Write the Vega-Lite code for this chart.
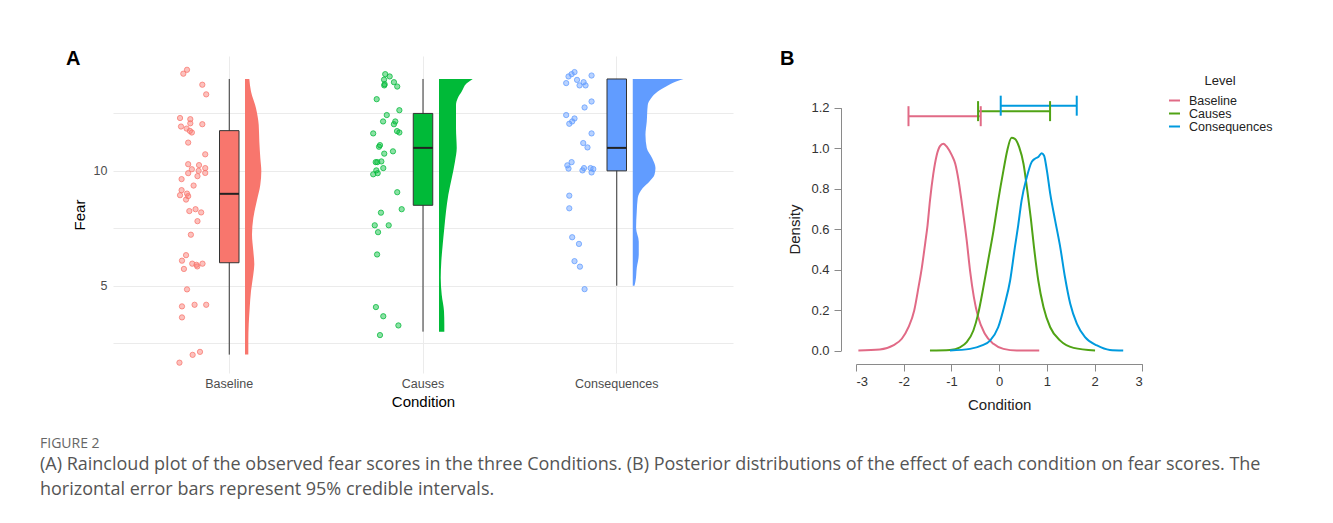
{
  "$schema": "https://vega.github.io/schema/vega-lite/v6.json",
  "autosize": {"type": "pad"},
  "padding": {"left": 40, "top": 49, "right": 5, "bottom": 5},
  "background": "white",
  "config": {"view": {"stroke": null}, "font": "Liberation Sans"},
  "datasets": {
    "pts": [
      {"Condition":"Baseline","jitter":-0.237,"Fear":14.23},{"Condition":"Baseline","jitter":-0.218,"Fear":14.40},{"Condition":"Baseline","jitter":-0.139,"Fear":13.75},{"Condition":"Baseline","jitter":-0.119,"Fear":13.33},{"Condition":"Baseline","jitter":-0.254,"Fear":12.30},{"Condition":"Baseline","jitter":-0.201,"Fear":12.25},{"Condition":"Baseline","jitter":-0.249,"Fear":11.93},{"Condition":"Baseline","jitter":-0.201,"Fear":12.07},{"Condition":"Baseline","jitter":-0.139,"Fear":12.03},{"Condition":"Baseline","jitter":-0.220,"Fear":11.84},{"Condition":"Baseline","jitter":-0.203,"Fear":11.74},{"Condition":"Baseline","jitter":-0.193,"Fear":11.67},{"Condition":"Baseline","jitter":-0.212,"Fear":11.23},{"Condition":"Baseline","jitter":-0.124,"Fear":10.72},{"Condition":"Baseline","jitter":-0.212,"Fear":10.29},{"Condition":"Baseline","jitter":-0.156,"Fear":10.25},{"Condition":"Baseline","jitter":-0.193,"Fear":10.07},{"Condition":"Baseline","jitter":-0.124,"Fear":10.12},{"Condition":"Baseline","jitter":-0.212,"Fear":9.90},{"Condition":"Baseline","jitter":-0.158,"Fear":10.0},{"Condition":"Baseline","jitter":-0.124,"Fear":9.91},{"Condition":"Baseline","jitter":-0.164,"Fear":9.77},{"Condition":"Baseline","jitter":-0.246,"Fear":9.64},{"Condition":"Baseline","jitter":-0.184,"Fear":9.36},{"Condition":"Baseline","jitter":-0.246,"Fear":9.16},{"Condition":"Baseline","jitter":-0.218,"Fear":9.01},{"Condition":"Baseline","jitter":-0.254,"Fear":8.94},{"Condition":"Baseline","jitter":-0.212,"Fear":8.90},{"Condition":"Baseline","jitter":-0.223,"Fear":8.75},{"Condition":"Baseline","jitter":-0.206,"Fear":8.25},{"Condition":"Baseline","jitter":-0.174,"Fear":8.33},{"Condition":"Baseline","jitter":-0.145,"Fear":8.19},{"Condition":"Baseline","jitter":-0.164,"Fear":7.81},{"Condition":"Baseline","jitter":-0.198,"Fear":7.22},{"Condition":"Baseline","jitter":-0.223,"Fear":6.33},{"Condition":"Baseline","jitter":-0.244,"Fear":6.09},{"Condition":"Baseline","jitter":-0.191,"Fear":5.96},{"Condition":"Baseline","jitter":-0.165,"Fear":5.84},{"Condition":"Baseline","jitter":-0.138,"Fear":5.96},{"Condition":"Baseline","jitter":-0.234,"Fear":5.73},{"Condition":"Baseline","jitter":-0.169,"Fear":5.91},{"Condition":"Baseline","jitter":-0.218,"Fear":4.84},{"Condition":"Baseline","jitter":-0.244,"Fear":4.10},{"Condition":"Baseline","jitter":-0.179,"Fear":4.17},{"Condition":"Baseline","jitter":-0.119,"Fear":4.17},{"Condition":"Baseline","jitter":-0.244,"Fear":3.62},{"Condition":"Baseline","jitter":-0.151,"Fear":2.12},{"Condition":"Baseline","jitter":-0.189,"Fear":1.99},{"Condition":"Baseline","jitter":-0.257,"Fear":1.65},
      {"Condition":"Causes","jitter":-0.195,"Fear":14.21},{"Condition":"Causes","jitter":-0.172,"Fear":14.11},{"Condition":"Causes","jitter":-0.201,"Fear":13.97},{"Condition":"Causes","jitter":-0.198,"Fear":13.77},{"Condition":"Causes","jitter":-0.200,"Fear":13.72},{"Condition":"Causes","jitter":-0.150,"Fear":13.86},{"Condition":"Causes","jitter":-0.133,"Fear":13.67},{"Condition":"Causes","jitter":-0.239,"Fear":13.12},{"Condition":"Causes","jitter":-0.122,"Fear":12.64},{"Condition":"Causes","jitter":-0.187,"Fear":12.43},{"Condition":"Causes","jitter":-0.206,"Fear":12.15},{"Condition":"Causes","jitter":-0.143,"Fear":12.15},{"Condition":"Causes","jitter":-0.150,"Fear":12.03},{"Condition":"Causes","jitter":-0.257,"Fear":11.63},{"Condition":"Causes","jitter":-0.134,"Fear":11.73},{"Condition":"Causes","jitter":-0.122,"Fear":11.67},{"Condition":"Causes","jitter":-0.222,"Fear":11.12},{"Condition":"Causes","jitter":-0.227,"Fear":11.05},{"Condition":"Causes","jitter":-0.200,"Fear":10.75},{"Condition":"Causes","jitter":-0.155,"Fear":10.85},{"Condition":"Causes","jitter":-0.244,"Fear":10.38},{"Condition":"Causes","jitter":-0.236,"Fear":10.38},{"Condition":"Causes","jitter":-0.215,"Fear":10.41},{"Condition":"Causes","jitter":-0.205,"Fear":10.12},{"Condition":"Causes","jitter":-0.241,"Fear":10.02},{"Condition":"Causes","jitter":-0.257,"Fear":9.85},{"Condition":"Causes","jitter":-0.234,"Fear":9.90},{"Condition":"Causes","jitter":-0.133,"Fear":9.07},{"Condition":"Causes","jitter":-0.110,"Fear":8.33},{"Condition":"Causes","jitter":-0.217,"Fear":8.18},{"Condition":"Causes","jitter":-0.249,"Fear":7.63},{"Condition":"Causes","jitter":-0.177,"Fear":7.63},{"Condition":"Causes","jitter":-0.232,"Fear":7.33},{"Condition":"Causes","jitter":-0.237,"Fear":6.36},{"Condition":"Causes","jitter":-0.243,"Fear":4.07},{"Condition":"Causes","jitter":-0.205,"Fear":3.67},{"Condition":"Causes","jitter":-0.127,"Fear":3.27},{"Condition":"Causes","jitter":-0.222,"Fear":2.85},
      {"Condition":"Consequences","jitter":-0.249,"Fear":14.11},{"Condition":"Consequences","jitter":-0.233,"Fear":14.21},{"Condition":"Consequences","jitter":-0.218,"Fear":14.30},{"Condition":"Consequences","jitter":-0.261,"Fear":13.82},{"Condition":"Consequences","jitter":-0.205,"Fear":13.96},{"Condition":"Consequences","jitter":-0.171,"Fear":13.86},{"Condition":"Consequences","jitter":-0.192,"Fear":13.72},{"Condition":"Consequences","jitter":-0.161,"Fear":13.72},{"Condition":"Consequences","jitter":-0.130,"Fear":14.15},{"Condition":"Consequences","jitter":-0.130,"Fear":13.02},{"Condition":"Consequences","jitter":-0.166,"Fear":12.76},{"Condition":"Consequences","jitter":-0.261,"Fear":12.43},{"Condition":"Consequences","jitter":-0.218,"Fear":12.28},{"Condition":"Consequences","jitter":-0.230,"Fear":12.15},{"Condition":"Consequences","jitter":-0.245,"Fear":12.05},{"Condition":"Consequences","jitter":-0.130,"Fear":11.63},{"Condition":"Consequences","jitter":-0.173,"Fear":11.21},{"Condition":"Consequences","jitter":-0.151,"Fear":11.02},{"Condition":"Consequences","jitter":-0.233,"Fear":10.38},{"Condition":"Consequences","jitter":-0.255,"Fear":10.24},{"Condition":"Consequences","jitter":-0.249,"Fear":10.10},{"Condition":"Consequences","jitter":-0.169,"Fear":10.12},{"Condition":"Consequences","jitter":-0.177,"Fear":10.02},{"Condition":"Consequences","jitter":-0.135,"Fear":10.12},{"Condition":"Consequences","jitter":-0.121,"Fear":10.08},{"Condition":"Consequences","jitter":-0.130,"Fear":9.93},{"Condition":"Consequences","jitter":-0.245,"Fear":8.92},{"Condition":"Consequences","jitter":-0.245,"Fear":8.37},{"Condition":"Consequences","jitter":-0.230,"Fear":7.11},{"Condition":"Consequences","jitter":-0.195,"Fear":6.82},{"Condition":"Consequences","jitter":-0.218,"Fear":6.07},{"Condition":"Consequences","jitter":-0.190,"Fear":5.83},{"Condition":"Consequences","jitter":-0.166,"Fear":4.85}
    ],
    "box": [
      {"Condition":"Baseline","lower":2,"q1":6,"median":9,"q3":11.75,"upper":14},
      {"Condition":"Causes","lower":3,"q1":8.5,"median":11,"q3":12.5,"upper":14},
      {"Condition":"Consequences","lower":5,"q1":10,"median":11,"q3":14,"upper":14}
    ],
    "violin": [
      {"Condition":"Baseline","Fear":14.0,"Density":0.108},{"Condition":"Baseline","Fear":13.45,"Density":0.15},{"Condition":"Baseline","Fear":12.73,"Density":0.275},{"Condition":"Baseline","Fear":12.0,"Density":0.343},{"Condition":"Baseline","Fear":11.28,"Density":0.358},{"Condition":"Baseline","Fear":10.56,"Density":0.383},{"Condition":"Baseline","Fear":9.98,"Density":0.408},{"Condition":"Baseline","Fear":9.40,"Density":0.383},{"Condition":"Baseline","Fear":8.68,"Density":0.293},{"Condition":"Baseline","Fear":7.95,"Density":0.208},{"Condition":"Baseline","Fear":7.23,"Density":0.175},{"Condition":"Baseline","Fear":6.51,"Density":0.208},{"Condition":"Baseline","Fear":5.93,"Density":0.233},{"Condition":"Baseline","Fear":5.49,"Density":0.208},{"Condition":"Baseline","Fear":4.77,"Density":0.15},{"Condition":"Baseline","Fear":4.05,"Density":0.118},{"Condition":"Baseline","Fear":3.32,"Density":0.093},{"Condition":"Baseline","Fear":2.60,"Density":0.083},{"Condition":"Baseline","Fear":2.0,"Density":0.083},
      {"Condition":"Causes","Fear":14.0,"Density":0.843},{"Condition":"Causes","Fear":13.81,"Density":0.693},{"Condition":"Causes","Fear":13.45,"Density":0.568},{"Condition":"Causes","Fear":13.16,"Density":0.468},{"Condition":"Causes","Fear":12.87,"Density":0.425},{"Condition":"Causes","Fear":11.86,"Density":0.425},{"Condition":"Causes","Fear":10.99,"Density":0.443},{"Condition":"Causes","Fear":10.41,"Density":0.40},{"Condition":"Causes","Fear":9.68,"Density":0.318},{"Condition":"Causes","Fear":8.96,"Density":0.233},{"Condition":"Causes","Fear":8.23,"Density":0.175},{"Condition":"Causes","Fear":7.51,"Density":0.133},{"Condition":"Causes","Fear":6.79,"Density":0.093},{"Condition":"Causes","Fear":6.06,"Density":0.058},{"Condition":"Causes","Fear":5.34,"Density":0.043},{"Condition":"Causes","Fear":4.61,"Density":0.068},{"Condition":"Causes","Fear":3.89,"Density":0.125},{"Condition":"Causes","Fear":3.31,"Density":0.133},{"Condition":"Causes","Fear":3.0,"Density":0.133},
      {"Condition":"Consequences","Fear":14.0,"Density":1.268},{"Condition":"Consequences","Fear":13.89,"Density":1.083},{"Condition":"Consequences","Fear":13.67,"Density":0.833},{"Condition":"Consequences","Fear":13.45,"Density":0.625},{"Condition":"Consequences","Fear":13.16,"Density":0.458},{"Condition":"Consequences","Fear":12.87,"Density":0.375},{"Condition":"Consequences","Fear":12.15,"Density":0.35},{"Condition":"Consequences","Fear":11.57,"Density":0.318},{"Condition":"Consequences","Fear":10.99,"Density":0.35},{"Condition":"Consequences","Fear":10.56,"Density":0.483},{"Condition":"Consequences","Fear":10.12,"Density":0.568},{"Condition":"Consequences","Fear":9.83,"Density":0.543},{"Condition":"Consequences","Fear":9.54,"Density":0.418},{"Condition":"Consequences","Fear":9.25,"Density":0.25},{"Condition":"Consequences","Fear":8.82,"Density":0.125},{"Condition":"Consequences","Fear":8.23,"Density":0.10},{"Condition":"Consequences","Fear":7.51,"Density":0.083},{"Condition":"Consequences","Fear":6.93,"Density":0.15},{"Condition":"Consequences","Fear":6.35,"Density":0.15},{"Condition":"Consequences","Fear":5.77,"Density":0.10},{"Condition":"Consequences","Fear":5.19,"Density":0.068},{"Condition":"Consequences","Fear":5.0,"Density":0.043}
    ],
    "post": [
      {"Level":"Baseline","Effect":-2.95,"Density":0},{"Level":"Baseline","Effect":-2.5,"Density":0.005},{"Level":"Baseline","Effect":-2.22,"Density":0.025},{"Level":"Baseline","Effect":-2.04,"Density":0.058},{"Level":"Baseline","Effect":-1.90,"Density":0.115},{"Level":"Baseline","Effect":-1.78,"Density":0.198},{"Level":"Baseline","Effect":-1.69,"Density":0.313},{"Level":"Baseline","Effect":-1.62,"Density":0.41},{"Level":"Baseline","Effect":-1.55,"Density":0.53},{"Level":"Baseline","Effect":-1.50,"Density":0.62},{"Level":"Baseline","Effect":-1.45,"Density":0.741},{"Level":"Baseline","Effect":-1.38,"Density":0.873},{"Level":"Baseline","Effect":-1.31,"Density":0.964},{"Level":"Baseline","Effect":-1.24,"Density":1.01},{"Level":"Baseline","Effect":-1.17,"Density":1.022},{"Level":"Baseline","Effect":-1.09,"Density":1.005},{"Level":"Baseline","Effect":-0.99,"Density":0.964},{"Level":"Baseline","Effect":-0.92,"Density":0.923},{"Level":"Baseline","Effect":-0.85,"Density":0.84},{"Level":"Baseline","Effect":-0.78,"Density":0.725},{"Level":"Baseline","Effect":-0.72,"Density":0.62},{"Level":"Baseline","Effect":-0.68,"Density":0.544},{"Level":"Baseline","Effect":-0.61,"Density":0.395},{"Level":"Baseline","Effect":-0.53,"Density":0.264},{"Level":"Baseline","Effect":-0.44,"Density":0.165},{"Level":"Baseline","Effect":-0.30,"Density":0.083},{"Level":"Baseline","Effect":-0.12,"Density":0.033},{"Level":"Baseline","Effect":0.09,"Density":0.008},{"Level":"Baseline","Effect":0.37,"Density":0.0},{"Level":"Baseline","Effect":0.84,"Density":0.0},
      {"Level":"Causes","Effect":-1.45,"Density":0},{"Level":"Causes","Effect":-1.03,"Density":0.003},{"Level":"Causes","Effect":-0.82,"Density":0.016},{"Level":"Causes","Effect":-0.68,"Density":0.041},{"Level":"Causes","Effect":-0.54,"Density":0.099},{"Level":"Causes","Effect":-0.44,"Density":0.181},{"Level":"Causes","Effect":-0.33,"Density":0.313},{"Level":"Causes","Effect":-0.23,"Density":0.445},{"Level":"Causes","Effect":-0.12,"Density":0.59},{"Level":"Causes","Effect":-0.02,"Density":0.741},{"Level":"Causes","Effect":0.09,"Density":0.89},{"Level":"Causes","Effect":0.17,"Density":0.989},{"Level":"Causes","Effect":0.26,"Density":1.051},{"Level":"Causes","Effect":0.33,"Density":1.046},{"Level":"Causes","Effect":0.42,"Density":1.005},{"Level":"Causes","Effect":0.51,"Density":0.923},{"Level":"Causes","Effect":0.59,"Density":0.791},{"Level":"Causes","Effect":0.665,"Density":0.65},{"Level":"Causes","Effect":0.73,"Density":0.511},{"Level":"Causes","Effect":0.82,"Density":0.346},{"Level":"Causes","Effect":0.93,"Density":0.214},{"Level":"Causes","Effect":1.07,"Density":0.115},{"Level":"Causes","Effect":1.28,"Density":0.049},{"Level":"Causes","Effect":1.56,"Density":0.013},{"Level":"Causes","Effect":2.01,"Density":0},
      {"Level":"Consequences","Effect":-1.03,"Density":0},{"Level":"Consequences","Effect":-0.61,"Density":0.008},{"Level":"Consequences","Effect":-0.36,"Density":0.025},{"Level":"Consequences","Effect":-0.19,"Density":0.049},{"Level":"Consequences","Effect":-0.02,"Density":0.115},{"Level":"Consequences","Effect":0.12,"Density":0.231},{"Level":"Consequences","Effect":0.23,"Density":0.346},{"Level":"Consequences","Effect":0.33,"Density":0.511},{"Level":"Consequences","Effect":0.40,"Density":0.62},{"Level":"Consequences","Effect":0.47,"Density":0.741},{"Level":"Consequences","Effect":0.58,"Density":0.857},{"Level":"Consequences","Effect":0.68,"Density":0.931},{"Level":"Consequences","Effect":0.75,"Density":0.948},{"Level":"Consequences","Effect":0.82,"Density":0.956},{"Level":"Consequences","Effect":0.89,"Density":0.975},{"Level":"Consequences","Effect":0.94,"Density":0.964},{"Level":"Consequences","Effect":1.00,"Density":0.89},{"Level":"Consequences","Effect":1.07,"Density":0.775},{"Level":"Consequences","Effect":1.17,"Density":0.647},{"Level":"Consequences","Effect":1.28,"Density":0.511},{"Level":"Consequences","Effect":1.38,"Density":0.362},{"Level":"Consequences","Effect":1.49,"Density":0.231},{"Level":"Consequences","Effect":1.63,"Density":0.132},{"Level":"Consequences","Effect":1.80,"Density":0.066},{"Level":"Consequences","Effect":2.05,"Density":0.025},{"Level":"Consequences","Effect":2.32,"Density":0.003},{"Level":"Consequences","Effect":2.60,"Density":0}
    ],
    "ci": [
      {"Level":"Baseline","lower":-1.90,"upper":-0.386,"height":1.158},
      {"Level":"Causes","lower":-0.442,"upper":1.067,"height":1.183},
      {"Level":"Consequences","lower":0.033,"upper":1.626,"height":1.21}
    ]
  },
  "title": {
    "text": "FIGURE 2",
    "subtitle": ["(A) Raincloud plot of the observed fear scores in the three Conditions. (B) Posterior distributions of the effect of each condition on fear scores. The", "horizontal error bars represent 95% credible intervals."],
    "orient": "bottom", "anchor": "start", "frame": "group", "dx": -73, "offset": 25,
    "font": "Open Sans", "fontSize": 14, "fontWeight": "normal", "color": "#666666",
    "subtitleFont": "Open Sans", "subtitleFontSize": 18, "subtitleColor": "#555555", "subtitleLineHeight": 25, "subtitlePadding": 5
  },
  "bounds": "flush",
  "spacing": 108,
  "resolve": {"scale": {"color": "independent"}},
  "hconcat": [
    {
      "width": 620, "height": 317,
      "title": {"text": "A", "anchor": "start", "frame": "group", "dx": -47, "dy": 29, "offset": 0, "baseline": "alphabetic", "fontSize": 20, "fontWeight": "bold", "color": "#000000", "font": "Liberation Sans"},
      "resolve": {"scale": {"x": "independent"}},
      "layer": [
        {
          "data": {"name": "box"},
          "mark": {"type": "rule", "color": "#333333", "strokeWidth": 1},
          "encoding": {
            "x": {"field": "Condition", "type": "nominal", "sort": ["Baseline","Causes","Consequences"], "scale": {"type": "band", "paddingInner": 0, "paddingOuter": 0.1},
                  "axis": {"title": "Condition", "bandPosition": 0.5, "grid": true, "gridColor": "#EBEBEB", "gridWidth": 1, "domain": false, "ticks": false, "labelAngle": 0, "labelColor": "#4D4D4D", "labelFontSize": 12.5, "labelPadding": 4, "titleFontSize": 15, "titleFontWeight": "normal", "titleColor": "#000000", "titlePadding": 5}},
            "y": {"field": "lower", "type": "quantitative", "scale": {"domain": [1.2, 15], "nice": false, "zero": false},
                  "axis": {"title": "Fear", "values": [2.5, 5, 7.5, 10, 12.5], "labelExpr": "datum.value % 5 == 0 ? datum.label : ''", "grid": true, "gridColor": "#EBEBEB", "gridWidth": 1, "domain": false, "ticks": false, "labelColor": "#4D4D4D", "labelFontSize": 12.5, "labelPadding": 6, "titleFontSize": 15, "titleFontWeight": "normal", "titleColor": "#000000", "titlePadding": 6}},
            "y2": {"field": "upper"}
          }
        },
        {
          "data": {"name": "pts"},
          "mark": {"type": "circle", "size": 28, "fillOpacity": 0.45, "strokeOpacity": 0.75, "strokeWidth": 1},
          "encoding": {
            "x": {"field": "Condition", "type": "nominal", "sort": ["Baseline","Causes","Consequences"], "scale": {"type": "band", "paddingInner": 0, "paddingOuter": 0.1}, "axis": null},
            "xOffset": {"field": "jitter", "type": "quantitative", "scale": {"domain": [-0.5, 0.5]}},
            "y": {"field": "Fear", "type": "quantitative"},
            "fill": {"field": "Condition", "type": "nominal", "scale": {"domain": ["Baseline","Causes","Consequences"], "range": ["#F8766D","#00BA38","#619CFF"]}, "legend": null},
            "stroke": {"field": "Condition", "type": "nominal", "scale": {"domain": ["Baseline","Causes","Consequences"], "range": ["#F8766D","#00BA38","#619CFF"]}, "legend": null}
          }
        },
        {
          "data": {"name": "box"},
          "mark": {"type": "bar", "size": 19.5, "stroke": "#333333", "strokeWidth": 1},
          "encoding": {
            "x": {"field": "Condition", "type": "nominal", "sort": ["Baseline","Causes","Consequences"], "scale": {"type": "band", "paddingInner": 0, "paddingOuter": 0.1}, "axis": null},
            "y": {"field": "q1", "type": "quantitative"},
            "y2": {"field": "q3"},
            "fill": {"field": "Condition", "type": "nominal", "legend": null}
          }
        },
        {
          "data": {"name": "box"},
          "mark": {"type": "tick", "orient": "horizontal", "size": 19.5, "thickness": 2, "color": "#222222", "opacity": 1},
          "encoding": {
            "x": {"field": "Condition", "type": "nominal", "sort": ["Baseline","Causes","Consequences"], "scale": {"type": "band", "paddingInner": 0, "paddingOuter": 0.1}, "axis": null},
            "y": {"field": "median", "type": "quantitative"}
          }
        },
        {
          "data": {"name": "violin"},
          "transform": [{"filter": "datum.Condition == 'Baseline'"}],
          "mark": {"type": "area", "orient": "horizontal", "interpolate": "monotone", "opacity": 1},
          "encoding": {
            "x": {"field": "Density", "type": "quantitative", "scale": {"domain": [-3.3, 12.2], "nice": false, "zero": false}, "axis": null},
            "x2": {"datum": 0},
            "y": {"field": "Fear", "type": "quantitative"},
            "fill": {"field": "Condition", "type": "nominal", "legend": null}
          }
        },
        {
          "data": {"name": "violin"},
          "transform": [{"filter": "datum.Condition == 'Causes'"}],
          "mark": {"type": "area", "orient": "horizontal", "interpolate": "monotone", "opacity": 1},
          "encoding": {
            "x": {"field": "Density", "type": "quantitative", "scale": {"domain": [-8.15, 7.35], "nice": false, "zero": false}, "axis": null},
            "x2": {"datum": 0},
            "y": {"field": "Fear", "type": "quantitative"},
            "fill": {"field": "Condition", "type": "nominal", "legend": null}
          }
        },
        {
          "data": {"name": "violin"},
          "transform": [{"filter": "datum.Condition == 'Consequences'"}],
          "mark": {"type": "area", "orient": "horizontal", "interpolate": "monotone", "opacity": 1},
          "encoding": {
            "x": {"field": "Density", "type": "quantitative", "scale": {"domain": [-12.994, 2.506], "nice": false, "zero": false}, "axis": null},
            "x2": {"datum": 0},
            "y": {"field": "Fear", "type": "quantitative"},
            "fill": {"field": "Condition", "type": "nominal", "legend": null}
          }
        }
      ]
    },
    {
      "width": 305, "height": 308,
      "title": {"text": "B", "anchor": "start", "frame": "group", "dx": -61, "dy": 29, "offset": 0, "baseline": "alphabetic", "fontSize": 20, "fontWeight": "bold", "color": "#000000", "font": "Liberation Sans"},
      "layer": [
        {
          "data": {"name": "post"},
          "mark": {"type": "line", "strokeWidth": 2, "interpolate": "monotone"},
          "encoding": {
            "x": {"field": "Effect", "type": "quantitative", "scale": {"domain": [-3, 3], "range": [15, 301.3], "nice": false, "zero": false},
                  "axis": {"title": "Condition", "values": [-3,-2,-1,0,1,2,3], "labelExpr": "'' + datum.value", "grid": false, "domainColor": "#8A8A8A", "tickColor": "#8A8A8A", "tickSize": 7, "labelColor": "#333333", "labelFontSize": 13, "labelPadding": 4, "titleFontSize": 15, "titleFontWeight": "normal", "titleColor": "#222222", "titlePadding": 9}},
            "y": {"field": "Density", "type": "quantitative", "scale": {"domain": [0, 1.2], "range": [294.5, 51.7], "nice": false, "zero": false},
                  "axis": {"title": "Density", "values": [0,0.2,0.4,0.6,0.8,1.0,1.2], "format": ".1f", "grid": false, "domainColor": "#8A8A8A", "tickColor": "#8A8A8A", "tickSize": 7, "labelColor": "#333333", "labelFontSize": 13, "labelPadding": 5, "titleFontSize": 15, "titleFontWeight": "normal", "titleColor": "#222222", "titlePadding": 8}},
            "color": {"field": "Level", "type": "nominal", "scale": {"domain": ["Baseline","Causes","Consequences"], "range": ["#E16A86","#50A315","#009ADE"]},
                      "legend": {"title": "Level", "orient": "none", "legendX": 327, "legendY": 19, "padding": 0, "titleAnchor": "middle", "titleFontWeight": "normal", "titleFontSize": 13, "titleColor": "#222222", "titlePadding": 6, "symbolType": "stroke", "symbolStrokeWidth": 2, "symbolSize": 121, "labelFontSize": 12.5, "labelColor": "#222222", "labelOffset": 8, "rowPadding": -1}}
          }
        },
        {
          "data": {"name": "ci"},
          "mark": {"type": "rule", "strokeWidth": 2},
          "encoding": {
            "x": {"field": "lower", "type": "quantitative"},
            "x2": {"field": "upper"},
            "y": {"field": "height", "type": "quantitative"},
            "color": {"field": "Level", "type": "nominal"}
          }
        },
        {
          "data": {"name": "ci"},
          "mark": {"type": "tick", "orient": "vertical", "size": 20, "thickness": 2, "opacity": 1},
          "encoding": {
            "x": {"field": "lower", "type": "quantitative"},
            "y": {"field": "height", "type": "quantitative"},
            "color": {"field": "Level", "type": "nominal"}
          }
        },
        {
          "data": {"name": "ci"},
          "mark": {"type": "tick", "orient": "vertical", "size": 20, "thickness": 2, "opacity": 1},
          "encoding": {
            "x": {"field": "upper", "type": "quantitative"},
            "y": {"field": "height", "type": "quantitative"},
            "color": {"field": "Level", "type": "nominal"}
          }
        }
      ]
    }
  ]
}
